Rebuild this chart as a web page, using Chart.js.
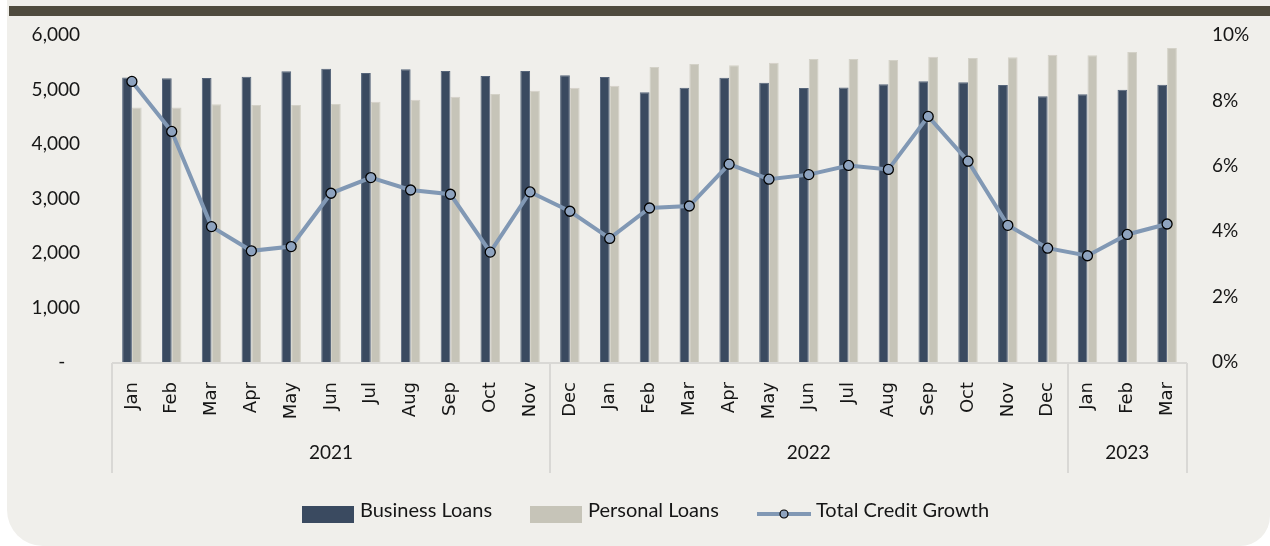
<!DOCTYPE html>
<html>
<head>
<meta charset="utf-8">
<script src="https://cdn.jsdelivr.net/npm/chart.js@4.4.1/dist/chart.umd.min.js"></script>
<style>
  html, body { margin: 0; padding: 0; background: #ffffff; }
  #wrap { position: relative; width: 1270px; height: 546px; overflow: hidden; }
  #panel { position: absolute; left: 7px; top: 0; width: 1263px; height: 546px;
           background: #f0efeb; border-radius: 0 0 30px 36px; }
  #band { position: absolute; left: 9px; top: 6px; width: 1261px; height: 10px; background: #4f4b3e; }
  #c { position: absolute; left: 0; top: 0; }
</style>
</head>
<body>
<div id="wrap">
  <div id="panel"></div>
  <div id="band"></div>
  <canvas id="c" width="1270" height="546"></canvas>
</div>
<script>
// Monthly loan balances and total credit growth, Jan 2021 – Mar 2023
const months = ['Jan','Feb','Mar','Apr','May','Jun','Jul','Aug','Sep','Oct','Nov',
                'Dec','Jan','Feb','Mar','Apr','May','Jun','Jul','Aug','Sep','Oct','Nov','Dec',
                'Jan','Feb','Mar'];
const yearLabels = ['2021', '2022', '2023'];
const yearSpans = [11, 13, 3];

const businessLoans = [5220,5205,5211,5235,5333,5382,5303,5370,5339,5248,5339,
                       5260,5229,4948,5033,5217,5125,5028,5035,5095,5150,5131,5083,4875,
                       4912,4997,5088];
const personalLoans = [4670,4670,4728,4716,4716,4734,4776,4813,4868,4917,4978,
                       5033,5070,5413,5468,5443,5492,5560,5560,5541,5602,5578,5590,5639,
                       5627,5688,5761];
const creditGrowth = [8.58,7.05,4.14,3.40,3.53,5.16,5.64,5.26,5.13,3.36,5.20,
                      4.61,3.78,4.71,4.77,6.05,5.59,5.73,6.01,5.89,7.51,6.14,4.18,3.48,
                      3.25,3.90,4.22];

const leftTicks = [0, 1000, 2000, 3000, 4000, 5000, 6000];
const rightTicks = [0, 2, 4, 6, 8, 10];

const DARK = '#3a4a60';
const LIGHT = '#c6c4b8';
const LINE = '#8198b4';
const MARKER = '#8ea3bf';
const TEXT = '#161616';
const RULE = '#d9d8d5';
const LABEL_FONT = { family: 'Lato', size: 19 };
const LEGEND_FONT = { family: 'Lato', size: 20 };

// Year grouping boxes under the month labels
const yearGroups = {
  id: 'yearGroups',
  afterDraw(chart) {
    const ctx = chart.ctx;
    const x = chart.scales.x;
    const half = (x.getPixelForValue(1) - x.getPixelForValue(0)) / 2;
    const top = chart.chartArea.bottom + 1;
    const bottom = 473;
    ctx.save();
    ctx.strokeStyle = RULE;
    ctx.lineWidth = 2;
    ctx.beginPath();
    ctx.moveTo(x.left, top);
    ctx.lineTo(x.right, top);
    ctx.stroke();
    let start = 0;
    const edges = [x.getPixelForValue(0) - half];
    yearSpans.forEach(span => {
      start += span;
      edges.push(x.getPixelForValue(start - 1) + half);
    });
    edges.forEach(px => {
      ctx.beginPath();
      ctx.moveTo(Math.round(px), top);
      ctx.lineTo(Math.round(px), bottom);
      ctx.stroke();
    });
    ctx.fillStyle = TEXT;
    ctx.font = `${LABEL_FONT.size}px ${LABEL_FONT.family}`;
    ctx.textAlign = 'center';
    ctx.textBaseline = 'middle';
    yearLabels.forEach((lab, i) => {
      ctx.fillText(lab, (edges[i] + edges[i + 1]) / 2, 453);
    });
    ctx.restore();
  }
};

// Legend row at the bottom
const legendRow = {
  id: 'legendRow',
  afterDraw(chart) {
    const ctx = chart.ctx;
    const ds = chart.data.datasets;
    ctx.save();
    ctx.font = `${LEGEND_FONT.size}px ${LEGEND_FONT.family}`;
    ctx.textBaseline = 'middle';
    ctx.textAlign = 'left';
    const y = 511;
    // bar swatches
    [[302, ds[1]], [530, ds[2]]].forEach(([lx, d]) => {
      ctx.fillStyle = d.backgroundColor;
      ctx.fillRect(lx, 506, 52, 17);
      ctx.fillStyle = TEXT;
      ctx.fillText(d.label, lx + 58, y);
    });
    // line swatch with marker
    const d = ds[0];
    ctx.strokeStyle = d.borderColor;
    ctx.lineWidth = 4;
    ctx.beginPath();
    ctx.moveTo(757, 514);
    ctx.lineTo(811, 514);
    ctx.stroke();
    ctx.beginPath();
    ctx.arc(784, 514, 4, 0, Math.PI * 2);
    ctx.fillStyle = d.pointBackgroundColor;
    ctx.fill();
    ctx.lineWidth = 1.2;
    ctx.strokeStyle = d.pointBorderColor;
    ctx.stroke();
    ctx.fillStyle = TEXT;
    ctx.fillText(d.label, 816, y);
    ctx.restore();
  }
};

// keep the tick padding from pushing the plot area down
function fixVertical(width) {
  return s => {
    s.width = width;
    s.paddingTop = 0;
    s.paddingBottom = 0;
  };
}

new Chart(document.getElementById('c'), {
  type: 'bar',
  data: {
    labels: months,
    datasets: [
      {
        type: 'line',
        label: 'Total Credit Growth',
        data: creditGrowth,
        yAxisID: 'y1',
        borderColor: LINE,
        borderWidth: 4,
        pointRadius: 5,
        pointBackgroundColor: MARKER,
        pointBorderColor: '#000000',
        pointBorderWidth: 1.3,
        tension: 0,
        order: 0
      },
      {
        label: 'Business Loans',
        data: businessLoans,
        yAxisID: 'y',
        backgroundColor: DARK,
        borderColor: '#56657a',
        borderWidth: 1,
        categoryPercentage: 0.49,
        barPercentage: 1.0,
        order: 1
      },
      {
        label: 'Personal Loans',
        data: personalLoans,
        yAxisID: 'y',
        backgroundColor: LIGHT,
        borderColor: '#d3d1c7',
        borderWidth: 1,
        categoryPercentage: 0.49,
        barPercentage: 1.0,
        order: 2
      }
    ]
  },
  options: {
    responsive: false,
    animation: false,
    devicePixelRatio: 1,
    layout: { padding: { top: 35, left: 0, right: 0, bottom: 0 } },
    plugins: { legend: { display: false }, tooltip: { enabled: false } },
    scales: {
      x: {
        grid: { display: false, drawTicks: false },
        border: { display: false },
        ticks: {
          autoSkip: false, maxRotation: 90, minRotation: 90, padding: 20,
          color: TEXT, font: { family: "'DejaVu Sans'", size: 18 }
        },
        afterFit(s) { s.height = 546 - 362; }
      },
      y: {
        position: 'left',
        min: leftTicks[0], max: leftTicks[leftTicks.length - 1],
        grid: { display: false, drawTicks: false },
        border: { display: false },
        afterBuildTicks(s) { s.ticks = leftTicks.map(v => ({ value: v })); },
        ticks: {
          padding: 32, color: TEXT, font: LABEL_FONT,
          callback: v => v === 0 ? '-   ' : v.toLocaleString('en-US')
        },
        afterFit: fixVertical(112)
      },
      y1: {
        position: 'right',
        min: rightTicks[0], max: rightTicks[rightTicks.length - 1],
        grid: { display: false, drawTicks: false },
        border: { display: false },
        afterBuildTicks(s) { s.ticks = rightTicks.map(v => ({ value: v })); },
        ticks: {
          padding: 25, color: TEXT, font: LABEL_FONT,
          callback: v => v + '%'
        },
        afterFit: fixVertical(83)
      }
    }
  },
  plugins: [yearGroups, legendRow]
});
</script>
</body>
</html>
